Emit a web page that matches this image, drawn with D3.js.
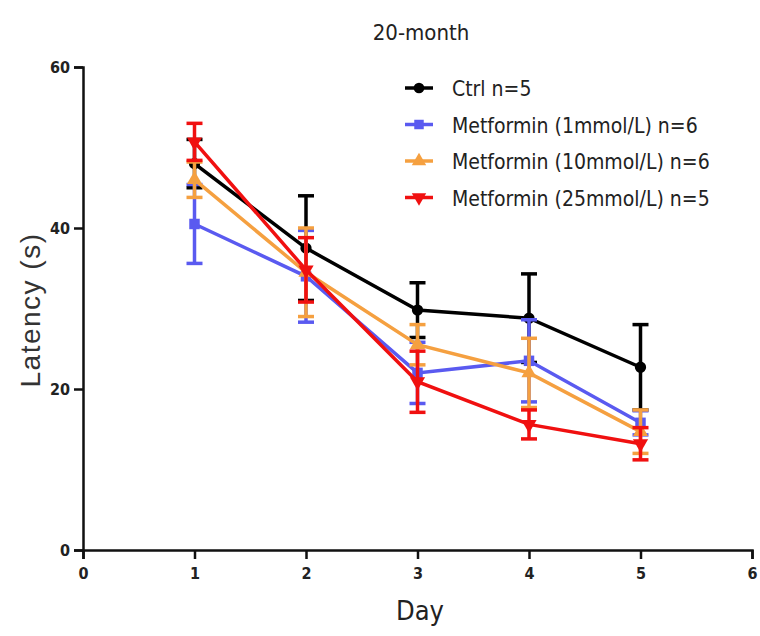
<!DOCTYPE html>
<html>
<head>
<meta charset="utf-8">
<script src="https://cdn.jsdelivr.net/npm/d3@7"></script>
<style>
  body { margin: 0; background: #fff; }
  text { font-family: "DejaVu Sans Condensed", "Liberation Sans", Arial, sans-serif; }
</style>
</head>
<body>
<div id="chart"></div>
<script>
var days = [1, 2, 3, 4, 5];
var seriesNames = ['Ctrl n=5', 'Metformin (1mmol/L) n=6', 'Metformin (10mmol/L) n=6', 'Metformin (25mmol/L) n=5'];
var colors = ['#000000', '#5a5af0', '#f5a040', '#f01010'];
var ctrlMean = [48, 37.5, 29.8, 28.8, 22.7];
var ctrlSem = [3, 6.5, 3.4, 5.5, 5.3];
var met1Mean = [40.5, 34, 22, 23.5, 15.8];
var met1Sem = [4.9, 5.7, 3.8, 5.1, 1.5];
var met10Mean = [46, 34.5, 25.5, 22, 14.7];
var met10Sem = [2.2, 5.5, 2.5, 4.3, 2.7];
var met25Mean = [50.7, 34.8, 20.9, 15.6, 13.2];
var met25Sem = [2.3, 4, 3.8, 1.8, 2];
var xTicks = [0, 1, 2, 3, 4, 5, 6];
var yTicks = [0, 20, 40, 60];

var means = [ctrlMean, met1Mean, met10Mean, met25Mean];
var sems = [ctrlSem, met1Sem, met10Sem, met25Sem];
var symbols = [d3.symbolCircle, d3.symbolSquare, d3.symbolTriangle, d3.symbolTriangle];

var W = 760, H = 636;
var svg = d3.select('#chart').append('svg')
    .attr('width', W)
    .attr('height', H);

var x = d3.scaleLinear().domain([0, 6]).range([83, 752]);
var y = d3.scaleLinear().domain([0, 60]).range([550, 67]);

// axes
var xAxis = svg.append('g')
    .attr('transform', 'translate(0,550)')
    .call(d3.axisBottom(x).tickValues(xTicks).tickSize(9).tickPadding(6).tickFormat(d3.format('d')));
var yAxis = svg.append('g')
    .attr('transform', 'translate(83,0)')
    .call(d3.axisLeft(y).tickValues(yTicks).tickSize(9).tickPadding(4).tickFormat(d3.format('d')));
[xAxis, yAxis].forEach(function(a) {
    a.select('.domain').attr('stroke', '#111').attr('stroke-width', 2.5);
    a.selectAll('.tick line').attr('stroke', '#111').attr('stroke-width', 2.5);
    a.selectAll('.tick text')
        .attr('fill', '#222')
        .style('font-family', '"DejaVu Sans Condensed", sans-serif')
        .style('font-size', '16px')
        .style('font-weight', 'bold');
});
xAxis.selectAll('.tick text').attr('dy', '0.9em');

// series
var line = d3.line()
    .x(function(d, i) { return x(days[i]); })
    .y(function(d) { return y(d); });

means.forEach(function(m, s) {
    var g = svg.append('g');
    var c = colors[s];
    g.append('path')
        .datum(m)
        .attr('d', line)
        .attr('fill', 'none')
        .attr('stroke', c)
        .attr('stroke-width', 3.5);
    m.forEach(function(v, i) {
        var cx = x(days[i]), lo = y(v - sems[s][i]), hi = y(v + sems[s][i]);
        g.append('line').attr('x1', cx).attr('x2', cx).attr('y1', lo).attr('y2', hi)
            .attr('stroke', c).attr('stroke-width', 3.5);
        [lo, hi].forEach(function(yy) {
            g.append('line').attr('x1', cx - 8).attr('x2', cx + 8).attr('y1', yy).attr('y2', yy)
                .attr('stroke', c).attr('stroke-width', 3.5);
        });
        g.append('path')
            .attr('d', d3.symbol().type(symbols[s]).size(s === 1 ? 110 : 100)())
            .attr('transform', 'translate(' + cx + ',' + y(v) + ')' + (s === 3 ? ' rotate(180)' : ''))
            .attr('fill', c);
    });
});

// title & labels
svg.append('text')
    .attr('x', 421).attr('y', 40)
    .attr('text-anchor', 'middle')
    .style('font-size', '22px')
    .attr('fill', '#222')
    .text('20-month');

svg.append('text')
    .attr('transform', 'translate(40,310) rotate(-90)')
    .attr('text-anchor', 'middle')
    .style('font-size', '28px')
    .style('letter-spacing', '1.5px')
    .style('font-family', 'Liberation Sans, Arial, sans-serif')
    .attr('fill', '#333')
    .text('Latency (s)');

svg.append('text')
    .attr('x', 420).attr('y', 620)
    .attr('text-anchor', 'middle')
    .style('font-size', '27px')
    .attr('fill', '#222')
    .text('Day');

// legend
var legend = svg.append('g');
seriesNames.forEach(function(name, s) {
    var ly = 88 + s * 36.5;
    legend.append('line').attr('x1', 405).attr('x2', 433).attr('y1', ly).attr('y2', ly)
        .attr('stroke', colors[s]).attr('stroke-width', 3.5);
    legend.append('path')
        .attr('d', d3.symbol().type(symbols[s]).size(90)())
        .attr('transform', 'translate(419,' + ly + ')' + (s === 3 ? ' rotate(180)' : ''))
        .attr('fill', colors[s]);
    legend.append('text')
        .attr('x', 452).attr('y', ly + 8)
        .style('font-size', '21px')
        .attr('fill', '#222')
        .text(name);
});
</script>
</body>
</html>
